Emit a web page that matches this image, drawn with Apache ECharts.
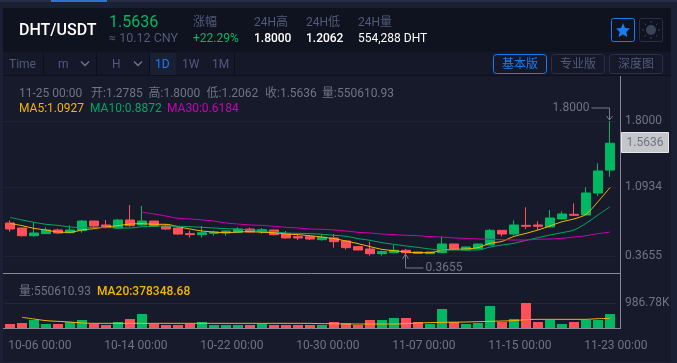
<!DOCTYPE html>
<html><head><meta charset="utf-8">
<style>html,body{margin:0;padding:0;background:#1c2035}#c{width:677px;height:363px}</style>
<script src="https://cdn.jsdelivr.net/npm/echarts@6/dist/echarts.min.js"></script>
</head><body><div id="c"></div>
<script>
const categories=['10-06 00:00','10-07 00:00','10-08 00:00','10-09 00:00','10-10 00:00','10-11 00:00','10-12 00:00','10-13 00:00','10-14 00:00','10-15 00:00','10-16 00:00','10-17 00:00','10-18 00:00','10-19 00:00','10-20 00:00','10-21 00:00','10-22 00:00','10-23 00:00','10-24 00:00','10-25 00:00','10-26 00:00','10-27 00:00','10-28 00:00','10-29 00:00','10-30 00:00','10-31 00:00','11-01 00:00','11-02 00:00','11-03 00:00','11-04 00:00','11-05 00:00','11-06 00:00','11-07 00:00','11-08 00:00','11-09 00:00','11-10 00:00','11-11 00:00','11-12 00:00','11-13 00:00','11-14 00:00','11-15 00:00','11-16 00:00','11-17 00:00','11-18 00:00','11-19 00:00','11-20 00:00','11-21 00:00','11-22 00:00','11-23 00:00','11-24 00:00','11-25 00:00'];
// open, close, low, high
const candles=[[.716,.652,.624,.744],[.663,.581,.571,.663],[.581,.610,.571,.723],[.603,.642,.599,.670],[.642,.610,.599,.656],[.613,.642,.606,.691],[.635,.737,.613,.748],[.737,.684,.674,.737],[.695,.667,.659,.748],[.663,.748,.656,.759],[.748,.688,.677,.907],[.695,.737,.684,.897],[.737,.684,.677,.737],[.684,.652,.642,.695],[.663,.599,.592,.674],[.603,.592,.560,.635],[.592,.613,.560,.684],[.606,.620,.581,.635],[.610,.631,.581,.635],[.617,.652,.610,.670],[.652,.620,.613,.667],[.624,.645,.603,.663],[.642,.592,.585,.642],[.603,.557,.550,.631],[.571,.557,.535,.592],[.571,.546,.535,.585],[.539,.564,.528,.596],[.557,.518,.454,.599],[.525,.454,.433,.525],[.465,.429,.429,.465],[.440,.390,.369,.514],[.390,.412,.369,.422],[.401,.426,.398,.482],[.426,.401,.385,.440],[.408,.394,.390,.408],[.390,.408,.387,.408],[.401,.493,.401,.571],[.493,.436,.436,.493],[.429,.461,.425,.465],[.443,.493,.436,.497],[.482,.638,.482,.652],[.638,.599,.574,.638],[.599,.695,.585,.744],[.691,.681,.652,.883],[.695,.681,.642,.734],[.674,.769,.670,.854],[.759,.812,.755,.840],[.808,.798,.794,.925],[.801,1.035,.801,1.095],[1.035,1.269,1.003,1.350],[1.2785,1.5636,1.2062,1.8]];
const ma5=[.712,.688,.659,.642,.620,.617,.642,.656,.674,.688,.705,.709,.702,.702,.677,.652,.631,.620,.613,.620,.624,.617,.613,.599,.592,.581,.567,.550,.525,.497,.465,.436,.422,.408,.401,.401,.429,.436,.440,.454,.500,.521,.574,.606,.642,.684,.730,.759,.808,.943,1.0927];
const ma10=[.776,.748,.723,.702,.691,.674,.667,.667,.670,.663,.663,.677,.681,.684,.681,.677,.670,.663,.656,.652,.642,.635,.624,.610,.606,.603,.596,.585,.575,.550,.532,.507,.489,.472,.457,.440,.429,.429,.429,.429,.461,.482,.500,.532,.560,.589,.613,.642,.712,.801,.8872];
const ma30=[null,null,null,null,null,null,null,null,null,null,null,.829,.812,.790,.766,.759,.748,.737,.716,.705,.695,.691,.681,.670,.663,.652,.649,.642,.631,.617,.610,.599,.592,.585,.581,.571,.567,.557,.553,.546,.543,.539,.535,.535,.543,.546,.553,.567,.581,.603,.6184];
const volumeK=[158,197,316,158,158,237,316,158,118,237,355,553,158,118,118,158,237,118,118,118,118,158,118,118,118,118,118,237,197,118,316,316,395,395,237,158,750,237,158,197,869,237,355,987,237,316,158,237,316,316,550.61];
const volMa20K=[null,421,355,290,263,237,197,184,184,184,184,184,184,184,184,184,184,184,184,184,184,184,184,184,184,184,171,171,158,158,158,158,158,171,197,211,224,230,237,250,263,276,290,329,342,342,342,342,342,368,378.35];
const priceTicks=[0.3655,1.0934,1.8];
const volumeTicks=[986.78];
const annoIndex=[50,33];
const annoValue=[1.8,0.3655];
const lastPrice=1.5636;

const UP='#00b862',DOWN='#ff5058',GREY='#6f7482',DIM='#525a78',WHITE='#ffffff',BLUE='#1a7cf2';
const YEL='#f7b500',GRN='#00a665',MAG='#cf00b0';
const FF='Roboto,"Noto Sans CJK SC",sans-serif';
const t=(text,x,y,fill,size,extra)=>Object.assign({type:'text',z:100,silent:true,style:{text,x,y,fill,font:(extra&&extra.weight||'400')+' '+(size||12)+'px '+FF,textAlign:(extra&&extra.align)||'left',textVerticalAlign:'middle'}});
const r=(x,y,w,h,fill,z,stroke,rad)=>({type:'rect',z:z===undefined?-5:z,silent:true,shape:{x,y,width:w,height:h,r:rad||0},style:{fill:fill,stroke:stroke||null,lineWidth:1}});
const l=(x1,y1,x2,y2,c,z)=>({type:'line',z:z===undefined?1:z,silent:true,shape:{x1,y1,x2,y2},style:{stroke:c,lineWidth:1}});
const chev=(x,y)=>({type:'polyline',z:100,silent:true,shape:{points:[[x-4,y-2],[x,y+2],[x+4,y-2]]},style:{stroke:'#6d7388',lineWidth:1.5,fill:null}});

const graphics=[
 r(0,0,677,363,'#1c2035',-10),
 r(0,0,677,2,'#272c47',-9), r(51,0,56,2,'#2f74d0',-8),
 r(3,8,668,44,'#0f1320',-6),
 r(3,52,668,24,'#141829',-6), l(3,75.5,671,75.5,'#0d101b',-4),
 r(3,76,668,286,'#161a2b',-6),
 r(149,53,27,22,'#1a2034',-4),
 l(43.5,52,43.5,75,'#0d101b',-3),l(96.5,52,96.5,75,'#0d101b',-3),l(149.5,52,149.5,75,'#0d101b',-3),l(234.5,52,234.5,75,'#0d101b',-3),
 t('DHT/USDT',19,30.5,WHITE,16,{weight:'500'}),
 t('1.5636',109,23,UP,16),
 t('≈ 10.12 CNY',109,38.5,DIM,12.5),
 t('涨幅',193,23,DIM,12),
 t('+22.29%',193,38.5,UP,12),
 t('24H高',254,23,DIM,12),
 t('1.8000',254,38.5,WHITE,12,{weight:'500'}),
 t('24H低',306,23,DIM,12),
 t('1.2062',306,38.5,WHITE,12,{weight:'500'}),
 t('24H量',358,23,DIM,12),
 t('554,288 DHT',358,38.5,WHITE,12),
 r(611.5,18.5,23,23,'#0f1320',5,BLUE,2),
 {type:'polygon',z:100,silent:true,shape:{points:[[623,23],[625,28],[630,28.6],[626.3,32],[627.4,37],[623,34.4],[618.6,37],[619.7,32],[616,28.6],[621,28]]},style:{fill:BLUE}},
 r(639.5,18.5,23,23,'#0f1320',5,'#2a2f45',2),
 {type:'circle',z:100,silent:true,shape:{cx:651,cy:30,r:5},style:{fill:'#3c4258'}},
 l(651,21,651,23,'#3c4258',100),l(651,37,651,39,'#3c4258',100),l(642,30,644,30,'#3c4258',100),l(658,30,660,30,'#3c4258',100),l(644.5,23.5,646,25,'#3c4258',100),l(656,35,657.5,36.5,'#3c4258',100),l(657.5,23.5,656,25,'#3c4258',100),l(646,35,644.5,36.5,'#3c4258',100),
 t('Time',9,64.5,DIM,12),
 t('m',58,64.5,DIM,12),chev(85,63.5),
 t('H',112,64.5,DIM,12),chev(138,63.5),
 t('1D',155,64.5,BLUE,12),t('1W',182,64.5,DIM,12),t('1M',212,64.5,DIM,12),
 r(493.5,54.5,53,19,'#141829',5,BLUE,3),t('基本版',520,64.5,BLUE,12,{align:'center'}),
 r(551.5,54.5,53,19,'#141829',5,'#2a3048',3),t('专业版',578,64.5,DIM,12,{align:'center'}),
 r(609.5,54.5,53,19,'#141829',5,'#2a3048',3),t('深度图',636,64.5,DIM,12,{align:'center'}),
 t('11-25 00:00',19,93.5,GREY,12),t('开:1.2785',91,93.5,GREY,12),t('高:1.8000',148.5,93.5,GREY,12),t('低:1.2062',206.5,93.5,GREY,12),t('收:1.5636',265,93.5,GREY,12),t('量:550610.93',322,93.5,GREY,12),
 t('MA5:1.0927',19,108.5,YEL,12),t('MA10:0.8872',90,108.5,GRN,12),t('MA30:0.6184',167,108.5,MAG,12),
 t('量:550610.93',19,291.5,GREY,12),t('MA20:378348.68',97,291.5,YEL,12,{weight:'500'}),
 l(3,273.5,620,273.5,'#858995',6),l(3,328.5,620,328.5,'#858995',6),l(620.5,76,620.5,329,'#858995',6)
];

const annoRender=(p,api)=>{
 const c=api.coord([api.value(0),api.value(1)]);
 const x=Math.round(c[0])-0.5,y=c[1],txt=api.value(1).toFixed(4);
 const st={stroke:'#777b88',lineWidth:1,fill:null};
 if(p.dataIndex===0){
  const top=y-13;
  return {type:'group',children:[
   {type:'polyline',shape:{points:[[x-18,top],[x,top],[x,y-1]]},style:st},
   {type:'polyline',shape:{points:[[x-3,y-5],[x,y-1],[x+3,y-5]]},style:st},
   {type:'text',style:{text:txt,x:x-20,y:top,fill:GREY,font:'12px '+FF,textAlign:'right',textVerticalAlign:'middle'}}
  ]};
 }
 const tip=y-2;
 return {type:'group',children:[
  {type:'polyline',shape:{points:[[x+18,tip+14],[x,tip+14],[x,tip]]},style:st},
  {type:'polyline',shape:{points:[[x-3,tip+5],[x,tip],[x+3,tip+5]]},style:st},
  {type:'text',style:{text:txt,x:x+20,y:tip+14,fill:GREY,font:'12px '+FF,textAlign:'left',textVerticalAlign:'middle'}}
 ]};
};
const tagRender=(p,api)=>{
 const c=api.coord([api.value(0),api.value(1)]);
 const y=Math.round(c[1]);
 return {type:'group',children:[
  {type:'rect',shape:{x:c[0]+11.5,y:y-10.5,width:47,height:20},style:{fill:'#c4c6ca',stroke:'#e6e7ea',lineWidth:1}},
  {type:'text',style:{text:api.value(1).toFixed(4),x:c[0]+35,y:y,fill:'#6f7482',font:'12px '+FF,textAlign:'center',textVerticalAlign:'middle'}}
 ]};
};
const line=(name,data,color,xi,yi)=>({name,type:'line',data,xAxisIndex:xi,yAxisIndex:yi,showSymbol:false,symbol:'none',smooth:0.3,connectNulls:false,z:5,lineStyle:{color,width:1},itemStyle:{color},silent:true});

const chart=echarts.init(document.getElementById('c'),null,{renderer:'canvas'});
chart.setOption({
 animation:false,backgroundColor:'transparent',
 grid:[{left:4,width:612,top:76,height:197},{left:4,width:612,top:273,height:55},{left:2.3,width:612,top:273,height:55}],
 xAxis:[
  {type:'category',gridIndex:0,data:categories,show:false},
  {type:'category',gridIndex:1,data:categories,show:false},
  {type:'category',gridIndex:2,data:categories,axisLine:{show:false},axisTick:{alignWithLabel:true,interval:7,length:3,lineStyle:{color:'#858995'}},
   axisLabel:{interval:7,align:'left',color:GREY,fontSize:12,fontFamily:FF,margin:12,hideOverlap:false},splitLine:{show:false}}
 ],
 yAxis:[
  {type:'value',gridIndex:0,position:'right',min:0.1847,max:2.278,offset:4,axisLine:{show:false},
   axisTick:{show:false,customValues:priceTicks},
   axisLabel:{customValues:priceTicks,color:GREY,fontSize:12,fontFamily:FF,margin:5,align:'left',formatter:v=>(+v).toFixed(4)},
   splitLine:{show:true,lineStyle:{color:'#1e2234',width:1}}},
  {type:'value',gridIndex:1,position:'right',min:0,max:2171,offset:4,axisLine:{show:false},
   axisTick:{show:false,customValues:volumeTicks},
   axisLabel:{customValues:volumeTicks,color:GREY,fontSize:12,fontFamily:FF,margin:5,align:'left',formatter:v=>(+v).toFixed(2)+'K'},
   splitLine:{show:true,lineStyle:{color:'#23273a',width:1}}},
  {type:'value',gridIndex:2,show:false}
 ],
 graphic:{elements:graphics},
 series:[
  {name:'K',type:'candlestick',data:candles,xAxisIndex:0,yAxisIndex:0,barWidth:10,z:3,silent:true,
   itemStyle:{color:UP,color0:DOWN,borderColor:UP,borderColor0:DOWN,borderWidth:1}},
  line('MA5',ma5,YEL,0,0),line('MA10',ma10,GRN,0,0),line('MA30',ma30,MAG,0,0),
  {name:'量',type:'bar',data:volumeK.map((v,i)=>({value:v,itemStyle:{color:candles[i][1]>=candles[i][0]?UP:DOWN}})),xAxisIndex:1,yAxisIndex:1,barWidth:10,z:3,silent:true},
  line('MA20',volMa20K,YEL,1,1),
  {type:'custom',xAxisIndex:0,yAxisIndex:0,data:annoIndex.map((x,i)=>[x,annoValue[i]]),encode:{x:0,y:1},renderItem:annoRender,z:20,silent:true,clip:false},
  {type:'custom',xAxisIndex:0,yAxisIndex:0,data:[[50,lastPrice]],encode:{x:0,y:1},renderItem:tagRender,z:20,silent:true,clip:false}
 ]
});
</script></body></html>
